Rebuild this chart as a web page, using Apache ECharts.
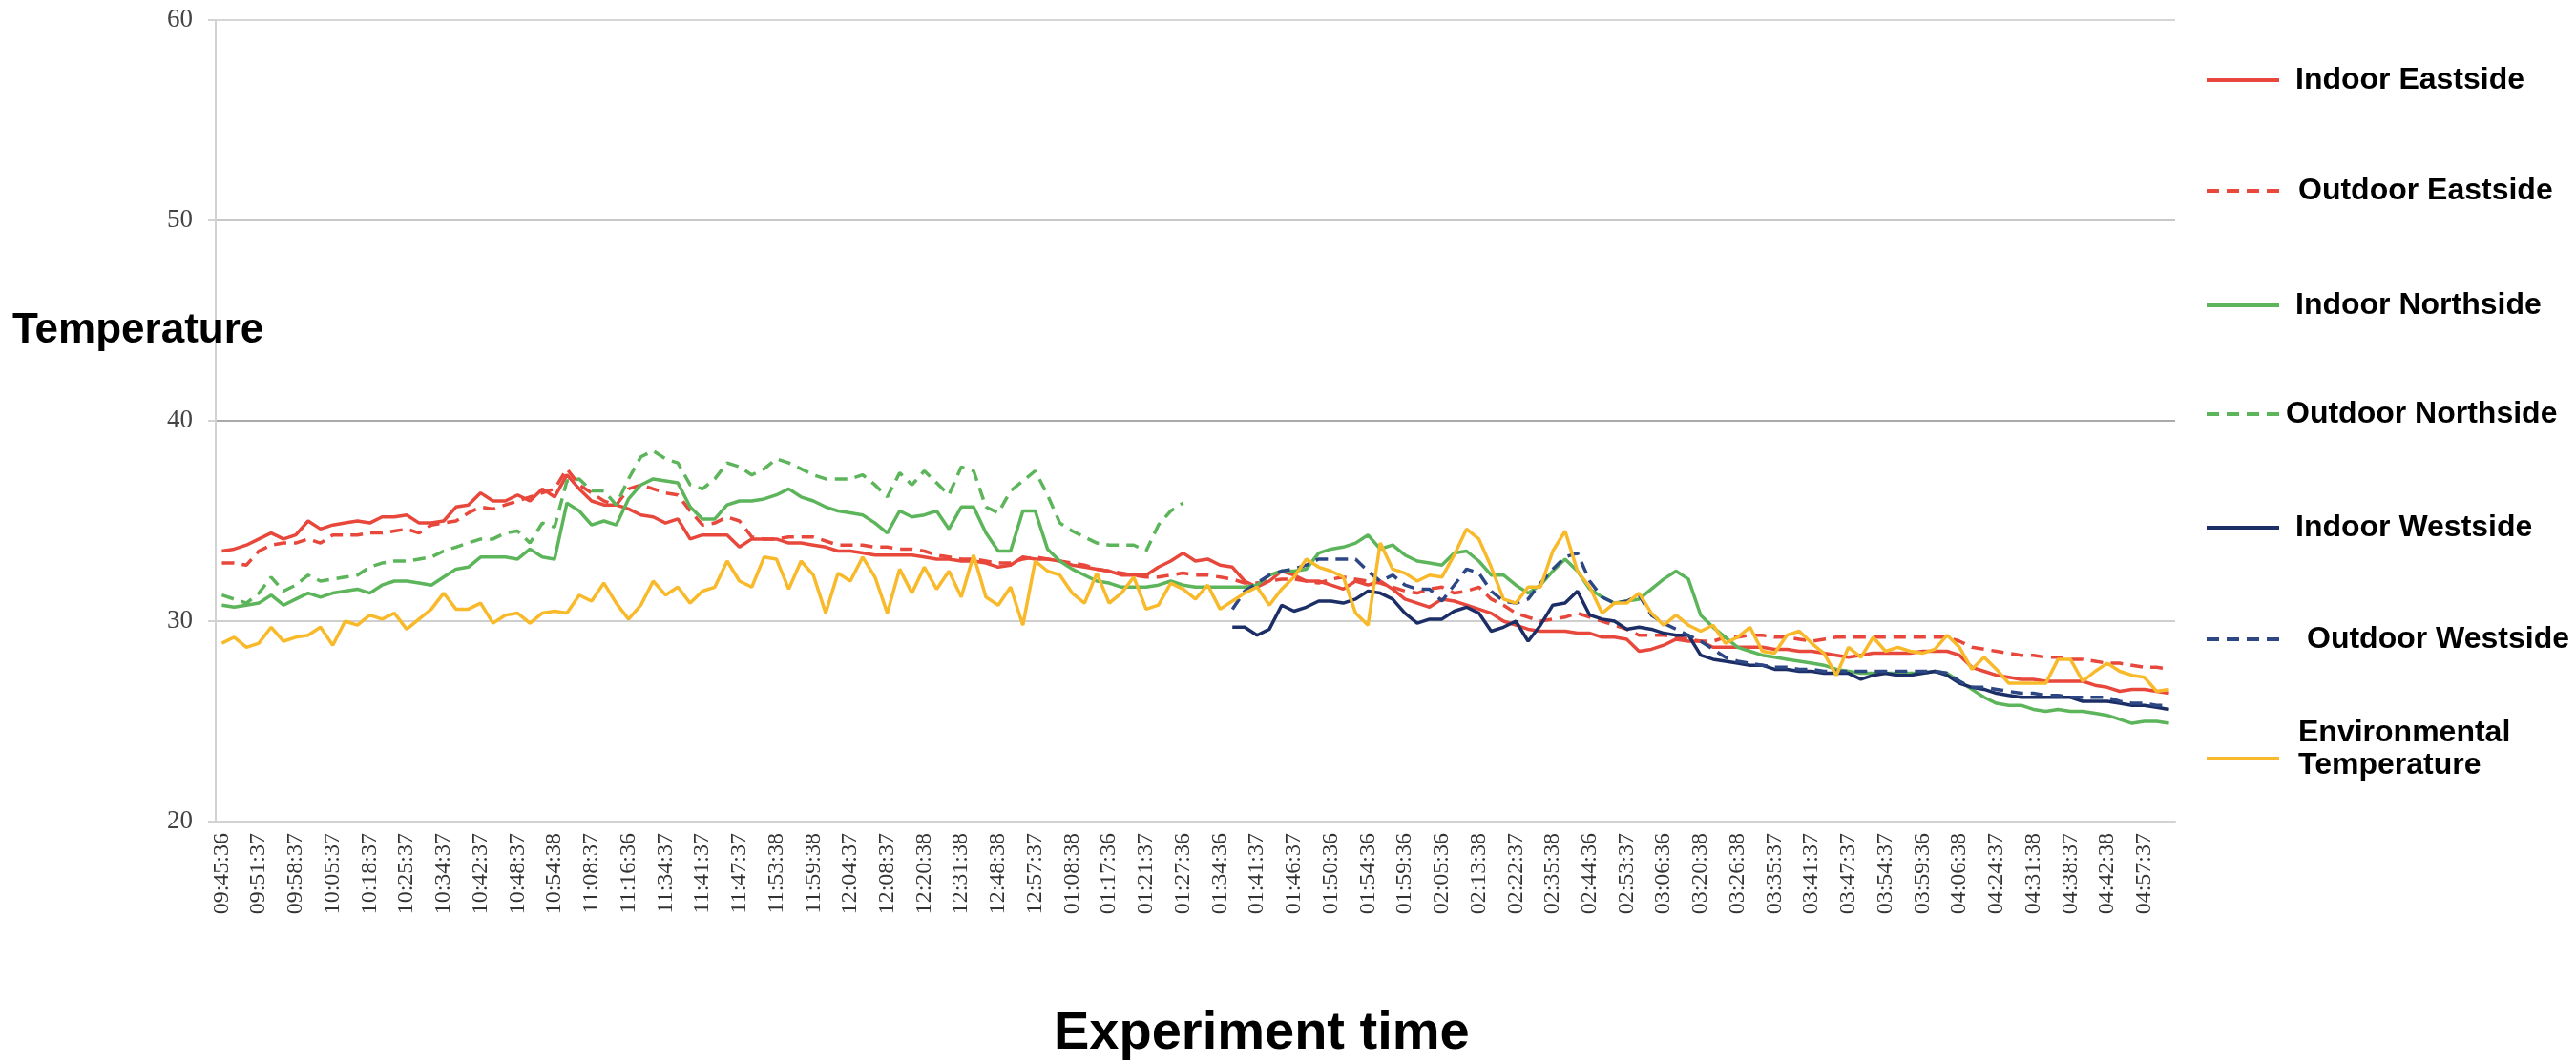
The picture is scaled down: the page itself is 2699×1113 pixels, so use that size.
<!DOCTYPE html>
<html>
<head>
<meta charset="utf-8">
<script src="https://cdn.jsdelivr.net/npm/echarts@6/dist/echarts.min.js"></script>
<style>html,body{margin:0;padding:0;background:#fff}#c{width:2699px;height:1113px}</style>
</head>
<body>
<div id="c"></div>
<script>
// Tick labels shown on the x axis (every third sample carries a label)
const tickLabels = ['09:45:36','09:51:37','09:58:37','10:05:37','10:18:37','10:25:37','10:34:37','10:42:37','10:48:37','10:54:38','11:08:37','11:16:36','11:34:37','11:41:37','11:47:37','11:53:38','11:59:38','12:04:37','12:08:37','12:20:38','12:31:38','12:48:38','12:57:37','01:08:38','01:17:36','01:21:37','01:27:36','01:34:36','01:41:37','01:46:37','01:50:36','01:54:36','01:59:36','02:05:36','02:13:38','02:22:37','02:35:38','02:44:36','02:53:37','03:06:36','03:20:38','03:26:38','03:35:37','03:41:37','03:47:37','03:54:37','03:59:36','04:06:38','04:24:37','04:31:38','04:38:37','04:42:38','04:57:37'];
const samplesPerLabel = 3;
const yTicks = [20, 30, 40, 50, 60];

const indoorEast = [33.5,33.6,33.8,34.1,34.4,34.1,34.3,35.0,34.6,34.8,34.9,35.0,34.9,35.2,35.2,35.3,34.9,34.9,35.0,35.7,35.8,36.4,36.0,36.0,36.3,36.0,36.6,36.2,37.3,36.6,36.0,35.8,35.8,35.6,35.3,35.2,34.9,35.1,34.1,34.3,34.3,34.3,33.7,34.1,34.1,34.1,33.9,33.9,33.8,33.7,33.5,33.5,33.4,33.3,33.3,33.3,33.3,33.2,33.1,33.1,33.0,33.0,32.9,32.7,32.8,33.2,33.1,33.1,33.0,32.8,32.7,32.6,32.5,32.3,32.3,32.3,32.7,33.0,33.4,33.0,33.1,32.8,32.7,32.0,31.7,32.0,32.5,32.3,32.0,32.0,31.8,31.6,32.0,31.8,32.0,31.6,31.1,30.9,30.7,31.1,31.0,30.8,30.6,30.4,30.0,29.8,29.6,29.5,29.5,29.5,29.4,29.4,29.2,29.2,29.1,28.5,28.6,28.8,29.1,29.0,29.0,28.7,28.7,28.7,28.7,28.7,28.6,28.6,28.5,28.5,28.4,28.3,28.2,28.3,28.4,28.4,28.4,28.4,28.5,28.5,28.5,28.3,27.7,27.5,27.3,27.2,27.1,27.1,27.0,27.0,27.0,27.0,26.8,26.7,26.5,26.6,26.6,26.5,26.4];
const outdoorEast = [32.9,32.9,32.8,33.5,33.8,33.9,33.9,34.1,33.9,34.3,34.3,34.3,34.4,34.4,34.5,34.6,34.4,34.8,34.9,35.0,35.4,35.7,35.6,35.8,36.0,36.2,36.4,36.6,37.6,36.8,36.4,36.0,35.8,36.6,36.8,36.6,36.4,36.3,35.5,34.8,34.9,35.2,35.0,34.2,34.1,34.1,34.2,34.2,34.2,34.0,33.8,33.8,33.8,33.7,33.7,33.6,33.6,33.5,33.3,33.2,33.1,33.1,33.0,32.9,32.9,33.1,33.2,33.1,33.0,32.9,32.8,32.6,32.5,32.4,32.3,32.2,32.2,32.3,32.4,32.3,32.3,32.2,32.1,31.9,31.9,32.0,32.1,32.1,32.0,31.9,32.1,32.2,32.1,32.0,31.9,31.7,31.5,31.4,31.6,31.7,31.4,31.5,31.7,31.1,30.8,30.4,30.2,30.0,30.1,30.2,30.4,30.2,30.0,29.8,29.6,29.3,29.3,29.3,29.2,29.1,29.0,29.0,29.2,29.2,29.3,29.3,29.2,29.2,29.1,29.0,29.1,29.2,29.2,29.2,29.2,29.2,29.2,29.2,29.2,29.2,29.2,29.0,28.7,28.6,28.5,28.4,28.3,28.3,28.2,28.2,28.1,28.1,28.0,27.9,27.9,27.8,27.7,27.7,27.6];
const indoorNorth = [30.8,30.7,30.8,30.9,31.3,30.8,31.1,31.4,31.2,31.4,31.5,31.6,31.4,31.8,32.0,32.0,31.9,31.8,32.2,32.6,32.7,33.2,33.2,33.2,33.1,33.6,33.2,33.1,35.9,35.5,34.8,35.0,34.8,36.1,36.8,37.1,37.0,36.9,35.7,35.1,35.1,35.8,36.0,36.0,36.1,36.3,36.6,36.2,36.0,35.7,35.5,35.4,35.3,34.9,34.4,35.5,35.2,35.3,35.5,34.6,35.7,35.7,34.4,33.5,33.5,35.5,35.5,33.6,33.0,32.6,32.3,32.0,31.9,31.7,31.7,31.7,31.8,32.0,31.8,31.7,31.7,31.7,31.7,31.7,31.8,32.3,32.5,32.5,32.6,33.4,33.6,33.7,33.9,34.3,33.6,33.8,33.3,33.0,32.9,32.8,33.4,33.5,33.0,32.3,32.3,31.8,31.4,31.8,32.5,33.1,32.5,31.6,31.2,30.9,31.0,31.1,31.6,32.1,32.5,32.1,30.3,29.7,29.2,28.7,28.5,28.3,28.2,28.1,28.0,27.9,27.8,27.6,27.5,27.4,27.4,27.4,27.4,27.4,27.4,27.5,27.4,27.0,26.6,26.2,25.9,25.8,25.8,25.6,25.5,25.6,25.5,25.5,25.4,25.3,25.1,24.9,25.0,25.0,24.9];
const outdoorNorth = [31.3,31.1,30.9,31.4,32.2,31.5,31.8,32.3,32.0,32.1,32.2,32.3,32.7,32.9,33.0,33.0,33.1,33.2,33.5,33.7,33.9,34.1,34.1,34.4,34.5,33.9,34.9,34.7,37.0,37.1,36.5,36.5,35.8,37.1,38.2,38.5,38.1,37.9,36.8,36.6,37.1,37.9,37.7,37.3,37.6,38.1,37.9,37.6,37.3,37.1,37.1,37.1,37.3,36.8,36.2,37.4,36.8,37.5,36.9,36.3,37.7,37.5,35.7,35.4,36.5,37.0,37.5,36.3,34.9,34.5,34.2,33.9,33.8,33.8,33.8,33.5,34.8,35.5,35.9];
// Westside sensors start later in the experiment
const westStart = 82;
const indoorWest = [29.7,29.7,29.3,29.6,30.8,30.5,30.7,31.0,31.0,30.9,31.1,31.5,31.4,31.1,30.4,29.9,30.1,30.1,30.5,30.7,30.4,29.5,29.7,30.0,29.0,29.8,30.8,30.9,31.5,30.3,30.1,30.0,29.6,29.7,29.6,29.4,29.3,29.3,28.3,28.1,28.0,27.9,27.8,27.8,27.6,27.6,27.5,27.5,27.4,27.4,27.4,27.1,27.3,27.4,27.3,27.3,27.4,27.5,27.3,26.9,26.7,26.6,26.4,26.3,26.2,26.2,26.2,26.2,26.2,26.0,26.0,26.0,25.9,25.8,25.8,25.7,25.6];
const outdoorWest = [30.6,31.5,31.9,32.3,32.5,32.6,32.8,33.1,33.1,33.1,33.1,32.5,32.0,32.3,31.8,31.6,31.6,31.0,31.8,32.6,32.4,31.5,31.0,30.9,31.1,31.9,32.6,33.2,33.4,32.0,31.2,30.9,31.0,31.3,30.3,29.9,29.6,29.3,29.0,28.6,28.2,28.0,27.9,27.8,27.7,27.7,27.6,27.6,27.5,27.5,27.5,27.5,27.5,27.5,27.5,27.5,27.5,27.5,27.4,27.0,26.7,26.7,26.6,26.5,26.4,26.4,26.3,26.3,26.2,26.2,26.2,26.2,26.0,25.9,25.9,25.8,25.8];
const environment = [28.9,29.2,28.7,28.9,29.7,29.0,29.2,29.3,29.7,28.8,30.0,29.8,30.3,30.1,30.4,29.6,30.1,30.6,31.4,30.6,30.6,30.9,29.9,30.3,30.4,29.9,30.4,30.5,30.4,31.3,31.0,31.9,30.9,30.1,30.8,32.0,31.3,31.7,30.9,31.5,31.7,33.0,32.0,31.7,33.2,33.1,31.6,33.0,32.3,30.4,32.4,32.0,33.2,32.2,30.4,32.6,31.4,32.7,31.6,32.5,31.2,33.3,31.2,30.8,31.7,29.8,33.0,32.5,32.3,31.4,30.9,32.4,30.9,31.4,32.2,30.6,30.8,31.9,31.6,31.1,31.8,30.6,31.0,31.4,31.7,30.8,31.6,32.2,33.1,32.7,32.5,32.2,30.4,29.8,33.9,32.6,32.4,32.0,32.3,32.2,33.3,34.6,34.1,32.7,31.1,30.9,31.7,31.7,33.5,34.5,32.5,31.7,30.4,30.9,30.9,31.4,30.4,29.8,30.3,29.8,29.5,29.8,28.9,29.2,29.7,28.5,28.4,29.3,29.5,28.9,28.4,27.3,28.7,28.2,29.2,28.5,28.7,28.5,28.4,28.6,29.3,28.7,27.6,28.2,27.6,26.9,26.9,26.9,26.9,28.1,28.1,27.0,27.5,27.9,27.5,27.3,27.2,26.5,26.6];

const categories = tickLabels.flatMap(t => [t].concat(Array(samplesPerLabel - 1).fill('')));
const pad = (arr, start) => Array(start).fill(null).concat(arr);

const RED = '#e8473b', GREEN = '#5cb55a', NAVY = '#1c2e66', NAVY2 = '#2c4784', YELLOW = '#f8b92a';
const DASH = [13, 8];

const seriesDefs = [
  {name: 'Indoor Eastside', data: indoorEast, color: RED, dash: 'solid'},
  {name: 'Outdoor Eastside', data: outdoorEast, color: RED, dash: DASH},
  {name: 'Indoor Northside', data: indoorNorth, color: GREEN, dash: 'solid'},
  {name: 'Outdoor Northside', data: outdoorNorth, color: GREEN, dash: DASH},
  {name: 'Indoor Westside', data: pad(indoorWest, westStart), color: NAVY, dash: 'solid'},
  {name: 'Outdoor Westside', data: pad(outdoorWest, westStart), color: NAVY2, dash: DASH},
  {name: 'Environmental Temperature', data: environment, color: YELLOW, dash: 'solid'}
];

const legendPos = [
  {name: 'Indoor Eastside', firstLine: 84, gap: 12},
  {name: 'Outdoor Eastside', firstLine: 200, gap: 15},
  {name: 'Indoor Northside', firstLine: 320, gap: 12},
  {name: 'Outdoor Northside', firstLine: 434, gap: 2},
  {name: 'Indoor Westside', firstLine: 553, gap: 12},
  {name: 'Outdoor Westside', firstLine: 670, gap: 24},
  {name: 'Environmental Temperature', firstLine: 768, gap: 15, lines: ['Environmental', 'Temperature'], spacer: 20}
];

const legendFont = {fontFamily: 'Liberation Sans, Arial, sans-serif', fontWeight: 'bold', fontSize: 32, color: '#000'};
const LH = 34;

const chart = echarts.init(document.getElementById('c'), null, {renderer: 'canvas'});
chart.setOption({
  animation: false,
  backgroundColor: '#ffffff',
  title: [
    {text: 'Temperature', left: 13, top: 325, padding: 0,
     textStyle: {fontFamily: 'Liberation Sans, Arial, sans-serif', fontWeight: 'bold', fontSize: 44, color: '#000'}},
    {text: 'Experiment time', left: 1104, top: 1056, padding: 0,
     textStyle: {fontFamily: 'Liberation Sans, Arial, sans-serif', fontWeight: 'bold', fontSize: 56, color: '#000'}}
  ],
  legend: legendPos.map(lp => {
    const lines = (lp.lines || [lp.name]).map(s => '{p|' + s + '}');
    if (lp.spacer) lines.push('{s| }');
    return {
      data: [lp.name], orient: 'vertical', left: 2310, top: lp.firstLine - LH / 2,
      padding: 0, itemWidth: 76, itemHeight: 14, selectedMode: false,
      lineStyle: {width: 4},
      itemStyle: {opacity: 0, borderWidth: 0},
      formatter: () => lines.join('\n'),
      textStyle: Object.assign({lineHeight: LH, rich: {
        p: Object.assign({padding: [0, 0, 0, lp.gap], lineHeight: LH}, legendFont),
        s: {fontSize: 10, lineHeight: lp.spacer || 10}
      }}, legendFont)
    };
  }),
  grid: {left: 226, right: 420, top: 21, bottom: 252},
  xAxis: {
    type: 'category', data: categories, boundaryGap: true,
    axisLine: {show: true, lineStyle: {color: '#d2d2d2', width: 2}},
    axisTick: {show: false},
    axisLabel: {interval: samplesPerLabel - 1, rotate: 90, margin: 12,
      fontFamily: 'Liberation Serif, Times New Roman, serif', fontSize: 24, color: '#333'},
    splitLine: {show: false}
  },
  yAxis: {
    type: 'value', min: yTicks[0], max: yTicks[yTicks.length - 1], interval: yTicks[1] - yTicks[0],
    axisLine: {show: true, lineStyle: {color: '#d2d2d2', width: 2}},
    axisTick: {show: true, length: 8, lineStyle: {color: '#d2d2d2', width: 2}},
    axisLabel: {margin: 24, fontFamily: 'Liberation Serif, Times New Roman, serif', fontSize: 27, color: '#444'},
    splitLine: {show: true, lineStyle: {color: ['#d6d6d6', '#cfcfcf', '#aaaaaa', '#c8c8c8', '#d6d6d6'], width: 2}}
  },
  series: seriesDefs.map(s => ({
    name: s.name, type: 'line', data: s.data, showSymbol: false, symbol: 'none',
    connectNulls: false,
    color: s.color,
    lineStyle: {color: s.color, width: 3.5, type: s.dash},
    emphasis: {disabled: true}
  }))
});
</script>
</body>
</html>
